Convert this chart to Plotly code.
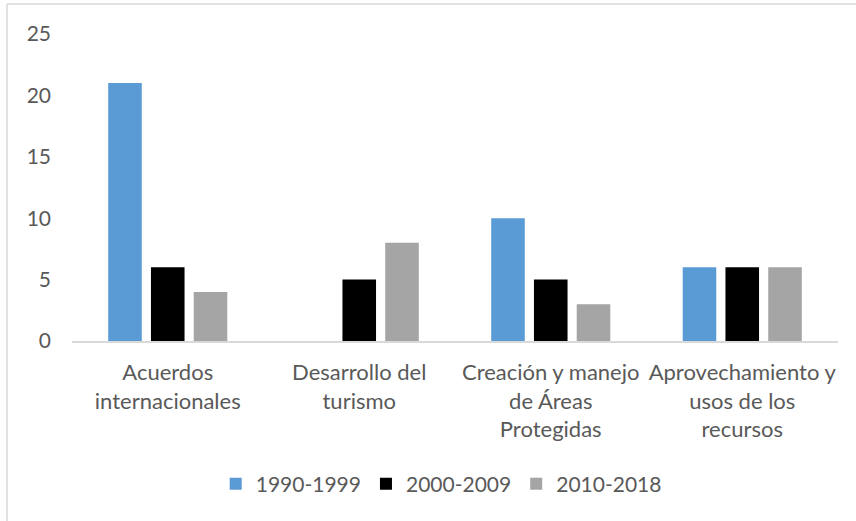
import plotly.graph_objects as go

categories = ["Acuerdos<br>internacionales", "Desarrollo del<br>turismo",
              "Creación y manejo<br>de Áreas<br>Protegidas",
              "Aprovechamiento y<br>usos de los<br>recursos"]
series_names = ["1990-1999", "2000-2009", "2010-2018"]
v_1990 = [21, 0, 10, 6]
v_2000 = [6, 5, 5, 6]
v_2010 = [4, 8, 3, 6]
colors = ["#5B9BD5", "#000000", "#A5A5A5"]
y_ticks = [0, 5, 10, 15, 20, 25]

W, H = 856, 521
ml, mr, mt, mb = 72, 18, 34, 180
pw, ph = W - ml - mr, H - mt - mb

fig = go.Figure()
for name, vals, c in zip(series_names, [v_1990, v_2000, v_2010], colors):
    fig.add_trace(go.Bar(x=categories, y=vals, name=name, marker_color=c,
                         marker_line_width=0))

FONT = "Lato"
TXT = "#595959"
FS = 22

def px_x(px):
    return (px - ml) / pw

def px_y(py):
    return (H - mb - py) / ph

fig.update_layout(
    width=W, height=H,
    margin=dict(l=ml, r=mr, t=mt, b=mb),
    paper_bgcolor="white", plot_bgcolor="white",
    barmode="group", bargap=0.33, bargroupgap=0.215,
    font=dict(family=FONT, size=FS, color=TXT),
    showlegend=True,
    legend=dict(orientation="h", x=0.482, xanchor="center", y=px_y(484), yanchor="middle",
                font=dict(family=FONT, size=21, color=TXT), itemwidth=30,
                traceorder="normal"),
    xaxis=dict(showline=True, linecolor="#D9D9D9", linewidth=1.5, ticks="",
               showgrid=False, tickangle=0,
               tickfont=dict(family=FONT, size=FS, color=TXT),
               ticklabelstandoff=11),
    yaxis=dict(range=[0, 25], tickvals=y_ticks, showgrid=False, zeroline=False,
               showline=False, ticks="", ticklabelstandoff=20,
               tickfont=dict(family=FONT, size=21, color=TXT)),
    shapes=[
        dict(type="line", xref="paper", yref="paper", x0=px_x(7), x1=px_x(W + 5),
             y0=px_y(4), y1=px_y(4), line=dict(color="#D9D9D9", width=1.5)),
        dict(type="line", xref="paper", yref="paper", x0=px_x(7), x1=px_x(7),
             y0=px_y(4), y1=px_y(H + 5), line=dict(color="#D9D9D9", width=1.5)),
    ],
)

fig.write_html("out.html", config={"displayModeBar": False},
               post_script="document.body.style.margin='0';document.body.style.overflow='hidden';")
